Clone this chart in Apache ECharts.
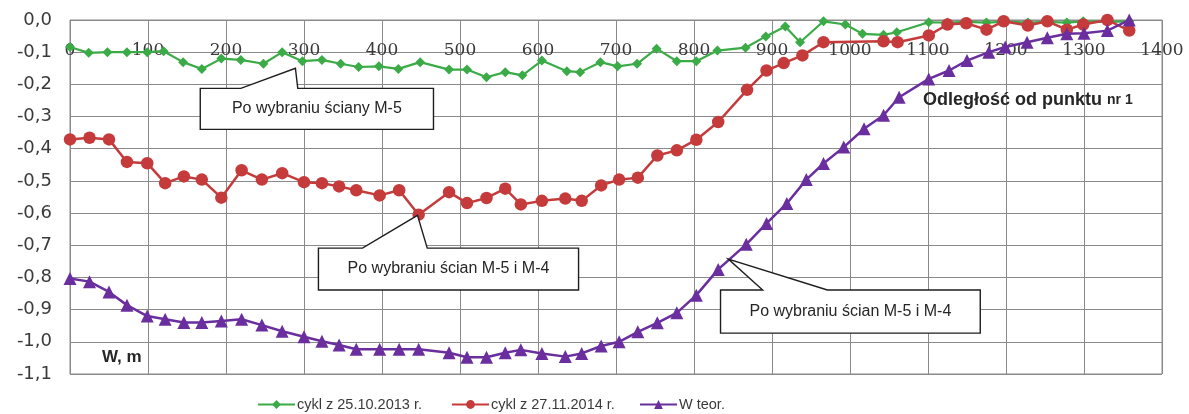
<!DOCTYPE html>
<html>
<head>
<meta charset="utf-8">
<script src="https://cdn.jsdelivr.net/npm/echarts@6/dist/echarts.min.js"></script>
<style>
  html, body { margin: 0; padding: 0; background: #fff; }
  #chart { width: 1189px; height: 414px; }
</style>
</head>
<body>
<div id="chart"></div>
<script>
// Odległość od punktu nr 1 [m] i obniżenie W [m] dla każdej serii
const greenName = 'cykl z 25.10.2013 r.';
const greenX = [0, 24, 48, 73, 99, 120, 145, 169, 194, 219, 248, 272, 298, 323, 347, 370, 396, 421, 449, 486,
  509, 534, 558, 580, 605, 637, 654, 680, 702, 727, 752, 778, 803, 830, 866, 892, 917, 936, 966, 994,
  1016, 1043, 1060, 1101, 1125, 1150, 1175, 1200, 1228, 1253, 1278, 1299, 1330, 1358];
const greenW = [-0.084, -0.102, -0.100, -0.100, -0.100, -0.097, -0.131, -0.152, -0.120, -0.124, -0.136, -0.100, -0.128, -0.124, -0.136, -0.146, -0.144, -0.152, -0.131, -0.154,
  -0.154, -0.178, -0.162, -0.172, -0.126, -0.159, -0.162, -0.131, -0.144, -0.136, -0.089, -0.128, -0.128, -0.095, -0.086, -0.051, -0.020, -0.069, -0.004, -0.014,
  -0.043, -0.046, -0.038, -0.007, -0.008, -0.006, -0.008, -0.005, -0.008, -0.006, -0.008, -0.004, -0.006, -0.004];

const redName = 'cykl z 27.11.2014 r.';
const redX = [0, 25, 50, 73, 99, 122, 146, 169, 194, 220, 246, 272, 300, 323, 345, 367, 397, 422, 447, 486,
  509, 534, 558, 578, 605, 635, 656, 681, 704, 728, 753, 778, 803, 831, 868, 893, 915, 939, 966, 1043,
  1061, 1101, 1125, 1149, 1175, 1197, 1228, 1253, 1278, 1299, 1330, 1358];
const redW = [-0.371, -0.366, -0.371, -0.441, -0.445, -0.507, -0.486, -0.496, -0.552, -0.467, -0.496, -0.476, -0.504, -0.507, -0.517, -0.529, -0.545, -0.529, -0.605, -0.535,
  -0.569, -0.553, -0.524, -0.573, -0.562, -0.555, -0.562, -0.514, -0.496, -0.490, -0.421, -0.405, -0.372, -0.317, -0.217, -0.157, -0.134, -0.110, -0.069, -0.066,
  -0.069, -0.048, -0.014, -0.010, -0.030, -0.004, -0.017, -0.004, -0.030, -0.014, 0.000, -0.033];

const purpleName = 'W teor.';
const purpleX = [0, 25, 50, 73, 99, 122, 146, 169, 194, 220, 246, 272, 300, 323, 345, 367, 397, 422, 447, 486,
  509, 534, 558, 578, 605, 635, 656, 681, 704, 728, 753, 778, 803, 831, 867, 893, 919, 944, 966, 992,
  1018, 1043, 1063, 1101, 1127, 1150, 1178, 1199, 1227, 1253, 1278, 1300, 1330, 1358];
const purpleW = [-0.803, -0.813, -0.845, -0.886, -0.920, -0.930, -0.940, -0.940, -0.935, -0.930, -0.948, -0.967, -0.984, -0.998, -1.010, -1.023, -1.023, -1.023, -1.023, -1.034,
  -1.048, -1.048, -1.034, -1.025, -1.036, -1.046, -1.036, -1.013, -1.000, -0.969, -0.941, -0.910, -0.855, -0.775, -0.697, -0.632, -0.570, -0.496, -0.446, -0.395,
  -0.338, -0.296, -0.240, -0.183, -0.157, -0.126, -0.100, -0.084, -0.069, -0.055, -0.043, -0.041, -0.033, 0.000];

// Opisy w dymkach: prostokąt (x0..x1, y0..y1), podstawa klina i punkt wskazywany
const callouts = [
  { text: 'Po wybraniu ściany M-5', x0: 167, x1: 466, y0: -0.2125, y1: -0.340, wedge: [219, 292], tip: [289, -0.150] },
  { text: 'Po wybraniu ścian M-5 i M-4', x0: 318.5, x1: 652, y0: -0.709, y1: -0.839, wedge: [375, 458], tip: [445.5, -0.607] },
  { text: 'Po wybraniu ścian M-5 i M-4', x0: 834, x1: 1167, y0: -0.839, y1: -0.973, wedge: [888, 971], tip: [844, -0.743] }
];

const pairs = (xs, ys) => xs.map((x, i) => [x, ys[i]]);
const gridColor = '#8a8a8a';
const textColor = '#3a3a3a';

const chart = echarts.init(document.getElementById('chart'));

chart.setOption({
  animation: false,
  backgroundColor: '#ffffff',
  grid: { left: 70, right: 27, top: 20, bottom: 40, show: true, borderColor: gridColor, borderWidth: 1 },
  xAxis: {
    type: 'value', position: 'top', min: 0, max: 1400, interval: 100,
    axisLine: { show: false },
    axisTick: { show: false },
    splitLine: { show: true, lineStyle: { color: gridColor, width: 1 } },
    axisLabel: {
      inside: true, margin: 22, color: textColor,
      fontFamily: 'DejaVu Serif', fontSize: 17,
      showMinLabel: true, showMaxLabel: true,
      formatter: v => String(v)
    }
  },
  yAxis: {
    type: 'value', min: -1.1, max: 0, interval: 0.1,
    axisLine: { show: false },
    axisTick: { show: false },
    splitLine: { show: true, lineStyle: { color: gridColor, width: 1 } },
    axisLabel: {
      margin: 18, color: textColor, fontFamily: 'DejaVu Sans', fontSize: 18,
      formatter: v => (Math.abs(v) < 1e-9 ? 0 : v).toFixed(1).replace('.', ',')
    }
  },
  legend: [
    { data: [greenName], left: 252, top: 392 },
    { data: [redName], left: 446, top: 392 },
    { data: [purpleName], left: 634, top: 392 }
  ].map(l => Object.assign(l, {
    itemWidth: 37, itemHeight: 11, itemGap: 0,
    textStyle: { color: textColor, fontFamily: 'Liberation Sans', fontSize: 14.5, padding: [0, 0, 0, -3] }
  })),
  series: [
    {
      name: greenName, type: 'line', data: pairs(greenX, greenW),
      symbol: 'diamond', symbolSize: 10,
      lineStyle: { color: '#3aab46', width: 2.2 },
      itemStyle: { color: '#3aab46' }, z: 3
    },
    {
      name: redName, type: 'line', data: pairs(redX, redW),
      symbol: 'circle', symbolSize: 12.5,
      lineStyle: { color: '#c53a3a', width: 2.5 },
      itemStyle: { color: '#c53a3a' }, z: 4
    },
    {
      name: purpleName, type: 'line', data: pairs(purpleX, purpleW),
      symbol: 'triangle', symbolSize: 13,
      lineStyle: { color: '#6a2e9e', width: 2.5 },
      itemStyle: { color: '#6a2e9e' }, z: 5
    }
  ]
});

// Dymki z opisami oraz podpisy osi rysowane jako grafika w układzie pikseli
const px = p => chart.convertToPixel({ gridIndex: 0 }, p);
const graphics = [];
callouts.forEach(c => {
  const tl = px([c.x0, c.y0]), br = px([c.x1, c.y1]);
  const w1 = px([c.wedge[0], c.y0]), w2 = px([c.wedge[1], c.y0]);
  const tip = px(c.tip);
  graphics.push({
    type: 'polygon', z: 100,
    shape: { points: [[tl[0], tl[1]], [w1[0], tl[1]], tip, [w2[0], tl[1]], [br[0], tl[1]], [br[0], br[1]], [tl[0], br[1]]] },
    style: { fill: '#ffffff', stroke: '#1e1e1e', lineWidth: 1.4 }
  });
  graphics.push({
    type: 'text', z: 101,
    x: (tl[0] + br[0]) / 2, y: (tl[1] + br[1]) / 2,
    style: { text: c.text, fill: '#262626', fontFamily: 'Liberation Sans', fontSize: 16, align: 'center', verticalAlign: 'middle' }
  });
});

const xName = px([1145, -0.25]);
graphics.push({
  type: 'text', z: 101, x: 923, y: xName[1],
  style: {
    text: '{a|Odległość od punktu }{b|nr 1}', verticalAlign: 'middle',
    rich: {
      a: { fontFamily: 'Liberation Sans', fontWeight: 'bold', fontSize: 18, fill: '#262626' },
      b: { fontFamily: 'Liberation Sans', fontWeight: 'bold', fontSize: 14, fill: '#262626' }
    }
  }
});
graphics.push({
  type: 'text', z: 101, x: 102, y: 357,
  style: { text: 'W, m', fill: '#262626', fontFamily: 'Liberation Sans', fontWeight: 'bold', fontSize: 17, verticalAlign: 'middle' }
});

chart.setOption({ graphic: graphics });
</script>
</body>
</html>
